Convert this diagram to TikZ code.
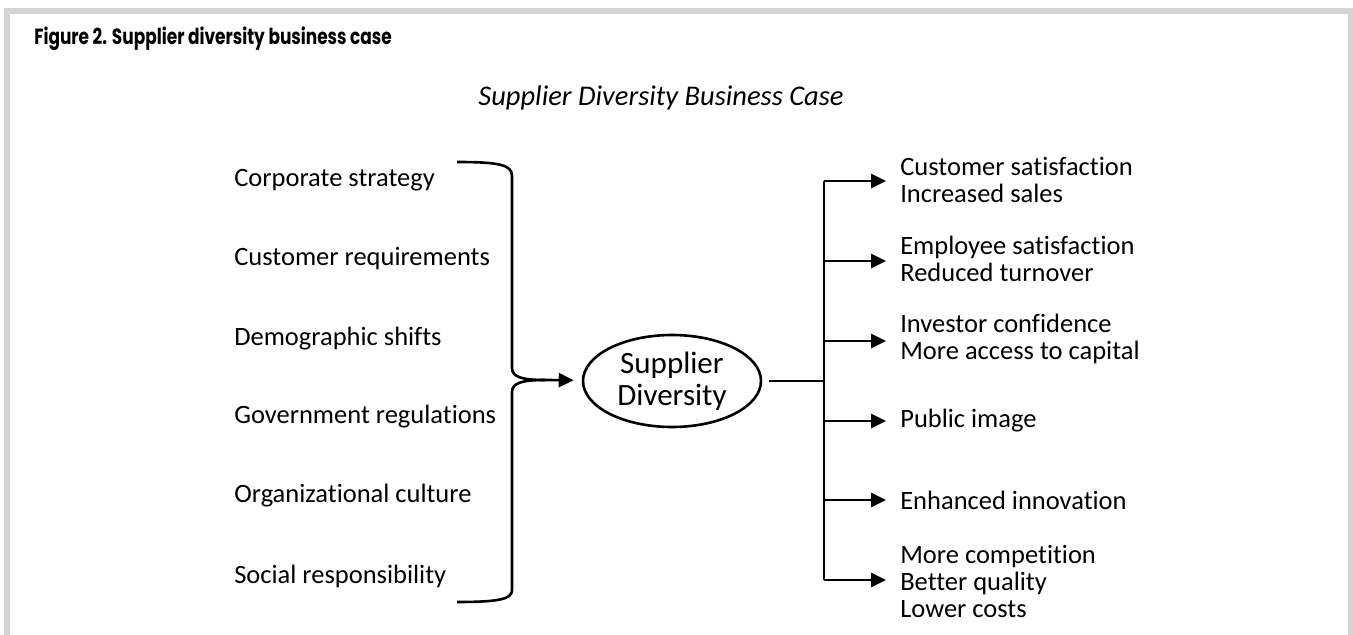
\documentclass[tikz,border=0pt]{standalone}
\usepackage{fontspec}
\setmainfont{Carlito}[Ligatures=NoCommon]
\newfontfamily\titlefont{Poppins}[FakeStretch=0.77]
\usetikzlibrary{shapes,arrows.meta,positioning,calc}
\definecolor{framegray}{RGB}{212,212,212}

\begin{document}
\begin{tikzpicture}[x=0.5pt, y=-0.5pt, line width=1.3pt,
  lab/.style={anchor=west, inner sep=0pt, align=left, font=\fontsize{13.25}{13.5}\selectfont},
  arr/.style={-{Triangle[length=7.5pt,width=7pt]}}]
\useasboundingbox (0,0) rectangle (1353,635);
\fill[framegray] (4,8) rectangle (1353,14);
\fill[framegray] (4,8) rectangle (10,635);
\fill[framegray] (1348,8) rectangle (1353,635);
\node (title) [anchor=west, inner sep=0pt, font=\titlefont\bfseries\fontsize{11}{13}\selectfont] at (33,39) {Figure 2. Supplier diversity business case};
\node (head) [inner sep=0pt, font=\itshape\fontsize{14.25}{16}\selectfont] at (661,98) {Supplier Diversity Business Case};
\node (0) [lab] at (233,180) {Corporate strategy};
\node (1) [lab] at (233,259) {Customer requirements};
\node (2) [lab] at (233,339) {Demographic shifts};
\node (3) [lab] at (233,417) {Government regulations};
\node (4) [lab] at (233,496) {Organizational culture};
\node (5) [lab] at (233,576) {Social responsibility};
\node (sd) [ellipse, draw, inner sep=0pt, minimum width=89pt, minimum height=46pt, align=center, font=\fontsize{15.5}{16}\selectfont] at (672,381) {Supplier\\Diversity};
\coordinate (tip) at (545,380);
\draw[] (457,162) .. controls (500,162) and (512,165) .. (512,176) -- (512,368) .. controls (512,377) and (522,380) .. (tip);
\draw[] (457,602) .. controls (500,602) and (512,599) .. (512,590) -- (512,392) .. controls (512,383) and (522,380) .. (tip);
\draw[arr, shorten >=4pt] (tip) -- (sd);
\coordinate (hub) at (824,381);
\draw[shorten <=3.5pt] (sd) -- (hub);
\coordinate (b1) at (824,181);
\coordinate (b2) at (824,261);
\coordinate (b3) at (824,341);
\coordinate (b4) at (824,421);
\coordinate (b5) at (824,500);
\coordinate (b6) at (824,580);
\draw[] (b1) -- (b6);
\node (o1) [lab] at (899,180) {Customer satisfaction\\Increased sales};
\node (o2) [lab] at (899,259) {Employee satisfaction\\Reduced turnover};
\node (o3) [lab] at (899,339) {Investor confidence\\More access to capital};
\node (o4) [lab] at (899,421) {Public image};
\node (o5) [lab] at (899,500) {Enhanced innovation};
\node (o6) [lab] at (899,581) {More competition\\Better quality\\Lower costs};
\draw[arr, shorten >=6.5pt] (b1) -- (b1 -| o1.west);
\draw[arr, shorten >=6.5pt] (b2) -- (b2 -| o2.west);
\draw[arr, shorten >=6.5pt] (b3) -- (b3 -| o3.west);
\draw[arr, shorten >=6.5pt] (b4) -- (b4 -| o4.west);
\draw[arr, shorten >=6.5pt] (b5) -- (b5 -| o5.west);
\draw[arr, shorten >=6.5pt] (b6) -- (b6 -| o6.west);
\end{tikzpicture}
\end{document}
